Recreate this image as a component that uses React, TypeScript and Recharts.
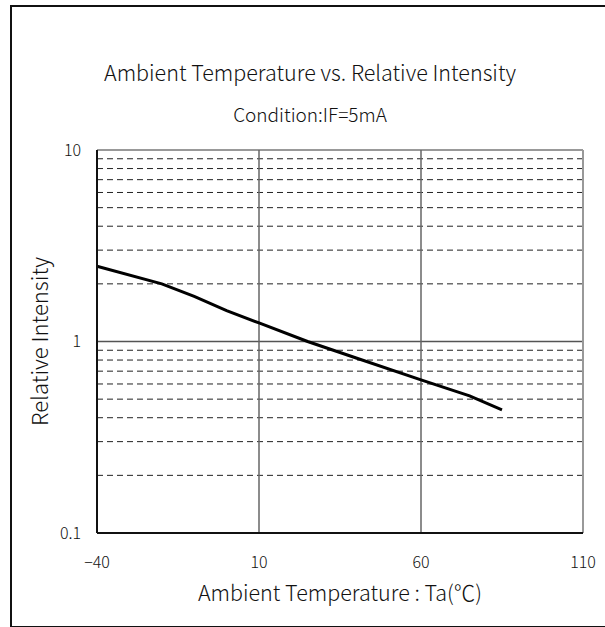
import { LineChart, Line, XAxis, YAxis, ReferenceLine } from 'recharts'

const temps = [-40, -20, -10, 0, 10, 25, 40, 60, 75, 85]
const intensity = [2.47, 2.0, 1.72, 1.45, 1.25, 1.0, 0.82, 0.63, 0.52, 0.44]
const xTicks = [-40, 10, 60, 110]
const yTicks = [0.1, 1, 10]
const dashedLevels = [0.2, 0.3, 0.4, 0.5, 0.6, 0.7, 0.8, 0.9, 2, 3, 4, 5, 6, 7, 8, 9]
const solidX = [10, 60]

const data = temps.map((t, i) => ({ t, v: intensity[i] }))

const font = '"Noto Sans CJK JP", "Noto Sans", sans-serif'

export default function App() {
  return (
    <div style={{ position: 'absolute', left: 0, top: 0, width: 605, height: 627, overflow: 'hidden', fontFamily: font, fontWeight: 300, background: '#fff' }}>
      <div style={{ position: 'absolute', left: 10, top: 5, width: 700, height: 619, border: '2px solid #111' }} />
      <div style={{ position: 'absolute', left: 0, width: 620, top: 56, textAlign: 'center', fontSize: 21.5, color: '#111' }}>
        Ambient Temperature vs. Relative Intensity
      </div>
      <div style={{ position: 'absolute', left: 0, width: 620, top: 100, textAlign: 'center', fontSize: 19, color: '#111' }}>
        Condition:IF=5mA
      </div>
      <div style={{ position: 'absolute', left: 0, top: 0 }}>
        <LineChart width={605} height={627} data={data} margin={{ top: 150, right: 22, bottom: 0, left: 0 }}>
          <XAxis
            dataKey="t"
            type="number"
            domain={[-40, 110]}
            ticks={xTicks}
            tickLine={false}
            tickMargin={18}
            height={94}
            axisLine={{ stroke: '#111', strokeWidth: 2 }}
            tick={{ fill: '#111', fontSize: 16, fontFamily: font, fontWeight: 300 }}
            tickFormatter={(v: number) => String(v).replace('-', '−')}
            label={{ value: 'Ambient Temperature : Ta(℃)', position: 'insideBottom', offset: 26, fill: '#111', fontSize: 21.5, fontFamily: font, fontWeight: 300 }}
          />
          <YAxis
            type="number"
            scale="log"
            domain={[0.1, 10]}
            allowDataOverflow
            ticks={yTicks}
            width={97}
            tickLine={false}
            tickMargin={10}
            axisLine={{ stroke: '#111', strokeWidth: 2 }}
            tick={{ fill: '#111', fontSize: 16, fontFamily: font, fontWeight: 300 }}
            label={{ value: 'Relative Intensity', angle: -90, position: 'insideLeft', offset: 40, fill: '#111', fontSize: 22, fontFamily: font, fontWeight: 300, style: { textAnchor: 'middle' } }}
          />
          {dashedLevels.map((y) => (
            <ReferenceLine key={'d' + y} y={y} stroke="#222" strokeWidth={1} strokeDasharray="6 4" />
          ))}
          <ReferenceLine y={1} stroke="#555" strokeWidth={1.5} />
          <ReferenceLine y={10} stroke="#999" strokeWidth={2} />
          <ReferenceLine x={110} stroke="#999" strokeWidth={2} />
          {solidX.map((x) => (
            <ReferenceLine key={'x' + x} x={x} stroke="#666" strokeWidth={1.5} />
          ))}
          <Line type="linear" dataKey="v" stroke="#000" strokeWidth={3} dot={false} isAnimationActive={false} />
        </LineChart>
      </div>
    </div>
  )
}
